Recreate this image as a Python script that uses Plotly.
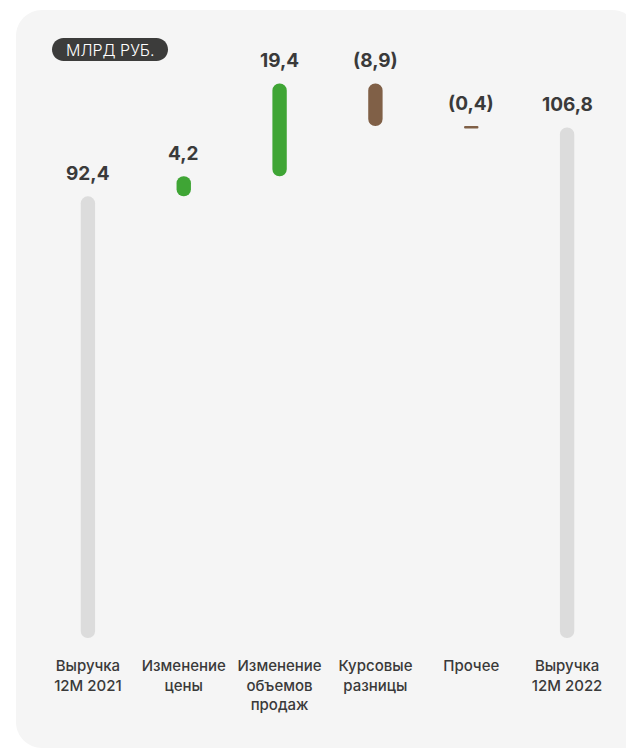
import plotly.graph_objects as go

# ---- data ----
categories = ["Выручка 12M 2021", "Изменение цены", "Изменение объемов продаж",
              "Курсовые разницы", "Прочее", "Выручка 12M 2022"]
tick_labels = ["Выручка<br>12M 2021", "Изменение<br>цены", "Изменение<br>объемов<br>продаж",
               "Курсовые<br>разницы", "Прочее", "Выручка<br>12M 2022"]
values = [92.4, 4.2, 19.4, -8.9, -0.4, 106.8]
measures = ["total", "relative", "relative", "relative", "relative", "total"]
unit_label = "МЛРД РУБ."

# ---- styles ----
OFF = 8  # page body margin
W, H = 634 - OFF, 749 - OFF
GRAY = "#dcdcdc"
GREEN = "#3fa535"
BROWN = "#806047"
TEXT = "#3a3a3a"
CARD = "#f5f5f5"

lows, highs, colors, labels = [], [], [], []
running = 0.0
for v, m in zip(values, measures):
    if m == "total":
        lo, hi = 0.0, v
        running = v
        col = GRAY
    else:
        lo, hi = sorted([running, running + v])
        running += v
        col = GREEN if v >= 0 else BROWN
    lows.append(lo)
    highs.append(hi)
    colors.append(col)
    s = f"{abs(v):.1f}".replace(".", ",")
    labels.append(f"({s})" if v < 0 else s)

lengths = [h - l for l, h in zip(lows, highs)]

fig = go.Figure()
fig.add_trace(go.Bar(x=categories, y=lengths, base=lows, width=0.15,
                     marker=dict(color=colors, cornerradius=7, line=dict(width=0)),
                     hoverinfo="skip", showlegend=False))

for c, h, t in zip(categories, highs, labels):
    fig.add_annotation(x=c, y=h, text=t, showarrow=False, yanchor="middle", yshift=23,
                       font=dict(family="Inter", size=19, color=TEXT, weight=700))


def px(x):
    return (x - OFF) / W


def py(y):
    return 1 - (y - OFF) / H


def rounded_path(x0, y0, x1, y1, r, round_br=True):
    k = 0.5523 * r
    p = f"M {px(x0 + r)},{py(y0)} L {px(x1 - r)},{py(y0)} "
    p += f"C {px(x1 - r + k)},{py(y0)} {px(x1)},{py(y0 + r - k)} {px(x1)},{py(y0 + r)} "
    if round_br:
        p += f"L {px(x1)},{py(y1 - r)} "
        p += f"C {px(x1)},{py(y1 - r + k)} {px(x1 - r + k)},{py(y1)} {px(x1 - r)},{py(y1)} "
    else:
        p += f"L {px(x1)},{py(y1)} "
    p += f"L {px(x0 + r)},{py(y1)} "
    p += f"C {px(x0 + r - k)},{py(y1)} {px(x0)},{py(y1 - r + k)} {px(x0)},{py(y1 - r)} "
    p += f"L {px(x0)},{py(y0 + r)} "
    p += f"C {px(x0)},{py(y0 + r - k)} {px(x0 + r - k)},{py(y0)} {px(x0 + r)},{py(y0)} Z"
    return p


fig.add_shape(type="path", xref="paper", yref="paper", layer="below",
              path=rounded_path(16, 10, 638, 748, 26, round_br=False),
              fillcolor=CARD, line=dict(width=0))
fig.add_shape(type="path", xref="paper", yref="paper", layer="above",
              path=rounded_path(52, 38, 168, 61, 11.5),
              fillcolor="#3c3c3b", line=dict(width=0))
fig.add_annotation(xref="paper", yref="paper", x=px(110), y=py(49.5), text=unit_label,
                   showarrow=False, xanchor="center", yanchor="middle",
                   font=dict(family="Inter", size=16, color="white", weight=300))

fig.update_layout(
    width=W, height=H,
    margin=dict(l=0, r=0, t=0, b=0),
    paper_bgcolor="white", plot_bgcolor="rgba(0,0,0,0)",
    barmode="overlay",
    xaxis=dict(domain=[px(40), px(615)], type="category", range=[-0.5, 5.5],
               tickmode="array", tickvals=categories, ticktext=tick_labels,
               showgrid=False, zeroline=False, showline=False, ticks="",
               ticklabelstandoff=17,
               tickfont=dict(family="Inter", size=15, color=TEXT, weight=500)),
    yaxis=dict(domain=[py(638), py(40.5)], range=[0, 125],
               visible=False, showgrid=False, zeroline=False),
)

fig.write_html("out.html")
